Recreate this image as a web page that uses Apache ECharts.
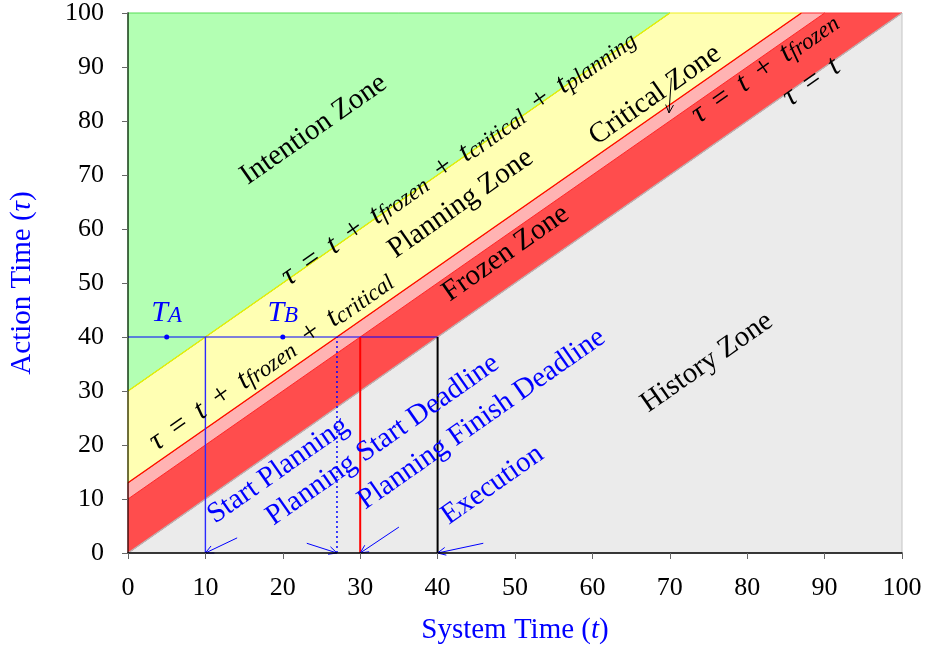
<!DOCTYPE html>
<html>
<head>
<meta charset="utf-8">
<script src="https://cdn.jsdelivr.net/npm/echarts@6/dist/echarts.min.js"></script>
<style>
  html, body { margin: 0; padding: 0; background: #fff; }
  #chart { width: 925px; height: 651px; }
</style>
</head>
<body>
<div id="chart"></div>
<script>
// zones between the lines tau = t + offset
const zoneNames = ['History Zone', 'Frozen Zone', 'Critical Zone', 'Planning Zone', 'Intention Zone'];
const zoneOffsets = [0, 10, 13, 30]; // t_frozen = 10, t_critical = 3, t_planning = 17
// events at action time 40
const eventNames = ['Start Planning', 'Planning Start Deadline', 'Planning Finish Deadline', 'Execution'];
const eventTimes = [10, 27, 30, 40];
const actionTime = 40;
const pointNames = ['A', 'B'];
const pointTimes = [5, 20];
const axisTicks = [0, 10, 20, 30, 40, 50, 60, 70, 80, 90, 100];

const FONT = 'Liberation Serif';
const zoneColors = ['#ebebeb', '#ff4d4d', '#ffb3b3', '#ffffb3', '#b3ffb3'];
const zoneBorders = ['#c4c4c4', '#ff3838', '#ff2a2a', '#eeee22', '#55dd55'];

const lo = axisTicks[0], hi = axisTicks[axisTicks.length - 1];

// polygon of each zone inside the box
function zoneShape(i) {
  if (i === 0) return [[lo, lo], [hi, lo], [hi, hi]];
  const a = zoneOffsets[i - 1];
  if (i === zoneOffsets.length) return [[lo, a], [hi - a, hi], [lo, hi]];
  const b = zoneOffsets[i];
  return [[lo, a], [hi - a, hi], [hi - b, hi], [lo, b]];
}

function renderZone(params, api) {
  const i = api.value(0);
  const pts = zoneShape(i).map(p => api.coord(p));
  return {
    type: 'polygon',
    shape: { points: pts },
    style: { fill: zoneColors[i], stroke: zoneBorders[i], lineWidth: 1 }
  };
}

// arrows from the labels down to the events
const arrowFrom = [[14.1, 2.8], [23.1, 1.8], [35, 4.8], [45.9, 1.8], [70.2, 88]];
const arrowTo = [[10, 0], [27, 0], [30, 0], [40, 0], [69.9, 81.5]];
const arrowData = arrowFrom.map((p, i) => [p[0], p[1], arrowTo[i][0], arrowTo[i][1]]);

function renderArrow(params, api) {
  const a = api.coord([api.value(0), api.value(1)]);
  const b = api.coord([api.value(2), api.value(3)]);
  const color = params.dataIndex === 4 ? '#000' : '#0000ff';
  const ang = Math.atan2(b[1] - a[1], b[0] - a[0]);
  const L = 9, w = 0.45;
  const h1 = [b[0] - L * Math.cos(ang - w), b[1] - L * Math.sin(ang - w)];
  const h2 = [b[0] - L * Math.cos(ang + w), b[1] - L * Math.sin(ang + w)];
  return {
    type: 'group',
    children: [
      { type: 'line', shape: { x1: a[0], y1: a[1], x2: b[0], y2: b[1] }, style: { stroke: color, lineWidth: 1 } },
      { type: 'polyline', shape: { points: [h1, b, h2] }, style: { stroke: color, fill: null, lineWidth: 1 } }
    ]
  };
}

const rich = {
  i: { fontFamily: FONT, fontStyle: 'italic', fontSize: 30, verticalAlign: 'bottom' },
  r: { fontFamily: FONT, fontSize: 29, verticalAlign: 'bottom' },
  o: { fontFamily: FONT, fontSize: 30, verticalAlign: 'bottom' },
  s: { fontFamily: FONT, fontStyle: 'italic', fontSize: 23, lineHeight: 10, verticalAlign: 'bottom' }
};

const SP = ' \u2009';
function formula(n) {
  const subs = ['frozen', 'critical', 'planning'];
  let s = '{i|τ}{o|' + SP + '=' + SP + '}{i|t}';
  for (let k = 0; k < n; k++) s += '{o|' + SP + '+' + SP + '}{i|t}{s|' + subs[k] + '}';
  return s;
}

// annotation texts and where they sit (data coordinates)
const labelItems = [
  { value: [24, 78.4], text: '{r|' + zoneNames[4] + '}' },
  { value: [43, 64.7], text: '{r|' + zoneNames[3] + '}' },
  { value: [68.1, 84.8], text: '{r|' + zoneNames[2] + '}' },
  { value: [48.8, 55.5], text: '{r|' + zoneNames[1] + '}' },
  { value: [74.8, 35.3], text: '{r|' + zoneNames[0] + '}' },
  { value: [42.7, 73.2], text: formula(3) },
  { value: [18.5, 35.5], text: formula(2) },
  { value: [82.3, 89.8], text: formula(1) },
  { value: [88.3, 87.2], text: formula(0) },
  { value: [19.4, 15.3], text: '{r|' + eventNames[0] + '}', blue: true },
  { value: [32.9, 20.9], text: '{r|' + eventNames[1] + '}', blue: true },
  { value: [45.7, 24.8], text: '{r|' + eventNames[2] + '}', blue: true },
  { value: [47.1, 12.6], text: '{r|' + eventNames[3] + '}', blue: true }
];

const tLabels = pointNames.map((n, i) => ({
  value: [pointTimes[i], actionTime + 4.5],
  label: { formatter: '{i|T}{s|' + n + '}' }
}));

const eventStyles = [
  { color: '#2a2aff', width: 1.4, type: 'solid' },
  { color: '#0000ff', width: 1.5, type: [2, 3] },
  { color: '#ff0000', width: 2, type: 'solid' },
  { color: '#000000', width: 2, type: 'solid' }
];

const series = [
  {
    type: 'custom',
    renderItem: renderZone,
    data: zoneNames.map((n, i) => [i, i]),
    z: 1,
    silent: true
  },
  {
    type: 'line', data: [[lo, zoneOffsets[3]], [hi - zoneOffsets[3], hi]],
    symbol: 'none', lineStyle: { color: '#eeee00', width: 1.3 }, z: 2
  },
  {
    type: 'line', data: [[lo, zoneOffsets[2]], [hi - zoneOffsets[2], hi]],
    symbol: 'none', lineStyle: { color: '#ff0000', width: 1.3 }, z: 2
  },
  {
    type: 'line', data: [[lo, zoneOffsets[0]], [hi - zoneOffsets[0], hi]],
    symbol: 'none', lineStyle: { color: '#b8b8b8', width: 1.3 }, z: 2
  },
  {
    type: 'line', data: [[lo, actionTime], [eventTimes[3], actionTime]],
    symbol: 'none', lineStyle: { color: '#0000ff', width: 1 }, z: 3
  }
];

eventTimes.forEach((t, i) => {
  series.push({
    type: 'line', data: [[t, 0], [t, actionTime]], symbol: 'none',
    lineStyle: eventStyles[i], z: 3
  });
});

series.push({
  type: 'custom',
  renderItem: renderArrow,
  data: arrowData,
  encode: { x: [0, 2], y: [1, 3] },
  z: 4,
  silent: true
});

series.push({
  type: 'scatter',
  data: pointTimes.map(t => [t, actionTime]),
  symbolSize: 5,
  itemStyle: { color: '#0000ff', opacity: 1 },
  z: 5
});

series.push({
  type: 'scatter',
  symbolSize: 1,
  itemStyle: { color: 'rgba(0,0,0,0)', opacity: 1 },
  z: 6,
  label: {
    show: true, position: 'inside', rotate: 0, color: '#0000ff', rich: rich
  },
  data: tLabels
});

series.push({
  type: 'scatter',
  symbolSize: 1,
  itemStyle: { color: 'rgba(0,0,0,0)', opacity: 1 },
  z: 6,
  label: {
    show: true, position: 'inside', rotate: 35, color: '#000', rich: rich
  },
  data: labelItems.map(d => ({
    value: d.value,
    label: { formatter: d.text, color: d.blue ? '#0000ff' : '#000' }
  }))
});

const axisCommon = {
  type: 'value',
  min: lo,
  max: hi,
  interval: axisTicks[1] - axisTicks[0],
  z: 10,
  splitLine: { show: false },
  axisTick: { show: true, length: 6, lineStyle: { color: '#666' } },
  nameLocation: 'middle',
  nameTextStyle: { color: '#0000ff', rich: {
    r: { fontFamily: FONT, fontSize: 29, color: '#0000ff' },
    i: { fontFamily: FONT, fontSize: 29, fontStyle: 'italic', color: '#0000ff' }
  } }
};

const option = {
  animation: false,
  backgroundColor: '#fff',
  grid: { left: 127, right: 23, top: 12, bottom: 98 },
  xAxis: Object.assign({}, axisCommon, {
    name: '{r|System Time (}{i|t}{r|)}',
    nameGap: 63,
    axisLine: { onZero: false, lineStyle: { color: '#000', width: 1.5 } },
    axisLabel: { margin: 22, fontFamily: FONT, fontSize: 26, color: '#000' }
  }),
  yAxis: Object.assign({}, axisCommon, {
    name: '{r|Action Time (}{i|τ}{r|)}',
    nameGap: 91,
    axisLine: { show: true, onZero: false, lineStyle: { color: 'rgba(0,0,0,0.55)', width: 2 } },
    axisLabel: { margin: 24, fontFamily: FONT, fontSize: 26, color: '#000' }
  }),
  series: series
};

const chart = echarts.init(document.getElementById('chart'));
chart.setOption(option);
</script>
</body>
</html>
